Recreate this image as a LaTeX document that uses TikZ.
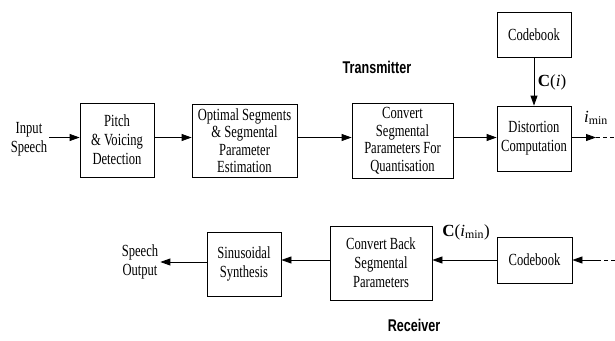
\documentclass[tikz,border=0pt]{standalone}
\usepackage{fontspec}
\setmainfont{Liberation Serif}[FakeStretch=0.74]
\newfontfamily\lblfont{Liberation Serif}
\newfontfamily\titfont{Liberation Sans}[FakeStretch=0.74]
\usetikzlibrary{arrows.meta}
\begin{document}
\begin{tikzpicture}[x=1pt,y=1pt,
  blk/.style={draw,line width=0.8pt,inner sep=0pt,align=center,font=\fontsize{17}{19}\selectfont},
  txt/.style={align=center,inner sep=2pt,font=\fontsize{17}{19}\selectfont},
  ttl/.style={inner sep=0pt,font=\titfont\bfseries\fontsize{17}{19}\selectfont},
  lbl/.style={inner sep=0pt,font=\lblfont\fontsize{17}{19}\selectfont},
  arr/.style={line width=0.8pt,-{Triangle[length=10pt,width=7pt]}},
  dsh/.style={line width=0.8pt,dash pattern=on 4pt off 3pt}]
\useasboundingbox (0,0) rectangle (615,-340);
\coordinate (ra) at (0,-137.5);
\coordinate (rb) at (0,-260);
\coordinate (rc) at (0,-262);
\node[blk,minimum width=74pt,minimum height=74pt] (pitch) at (117,-140) {Pitch\\\& Voicing\\Detection};
\node[blk,minimum width=105pt,minimum height=73pt] (opt) at (244.5,-140.5) {Optimal Segments\\[-1.5pt]\& Segmental\\[-1.5pt]Parameter\\[-1.5pt]Estimation};
\node[blk,minimum width=101pt,minimum height=75pt] (conv) at (402.5,-140.5) {Convert\\[-1.5pt]Segmental\\[-1.5pt]Parameters For\\[-1.5pt]Quantisation};
\node[blk,minimum width=74pt,minimum height=65pt] (dist) at (534,-138.5) {Distortion\\Computation};
\node[blk,minimum width=74pt,minimum height=45pt] (cba) at (534,-34.5) {Codebook};
\node[blk,minimum width=74pt,minimum height=64pt] (sin) at (244,-264) {Sinusoidal\\Synthesis};
\node[blk,minimum width=102pt,minimum height=74pt] (cbk) at (381,-263) {Convert Back\\Segmental\\Parameters};
\node[blk,minimum width=75pt,minimum height=46pt] (cbb) at (534.5,-260) {Codebook};
\node[txt] (inp) at (29,-139) {Input\\Speech};
\node[txt] (out) at (140,-262) {Speech\\Output};
\node[ttl] (tx) at (377,-67) {Transmitter};
\node[ttl] (rx) at (414,-325) {Receiver};
\node[lbl] (ci) at (552,-82) {\textbf{C}(\textit{i})};
\node[lbl] (im) at (596,-118) {\textit{i}\textsubscript{min}};
\node[lbl] (cim) at (466,-232) {\textbf{C}(\textit{i}\textsubscript{min})};
\coordinate (oend) at (596,-137.5);
\coordinate (oedge) at (615,-137.5);
\coordinate (din) at (598,-260);
\coordinate (dedge) at (615,-260);
\draw[arr] (inp.east |- ra) -- (pitch.west |- ra);
\draw[arr] (pitch.east |- ra) -- (opt.west |- ra);
\draw[arr] (opt.east |- ra) -- (conv.west |- ra);
\draw[arr] (conv.east |- ra) -- (dist.west |- ra);
\draw[arr] (dist.east |- ra) -- (oend);
\draw[dsh] (oend) -- (oedge);
\draw[arr] (cba) -- (dist);
\draw[dsh] (dedge) -- (din);
\draw[arr] (din) -- (cbb.east);
\draw[arr] (cbb.west) -- (cbk.east |- rb);
\draw[arr] (cbk.west |- rb) -- (sin.east |- rb);
\draw[arr] (sin.west |- rc) -- (out.east |- rc);
\end{tikzpicture}
\end{document}
